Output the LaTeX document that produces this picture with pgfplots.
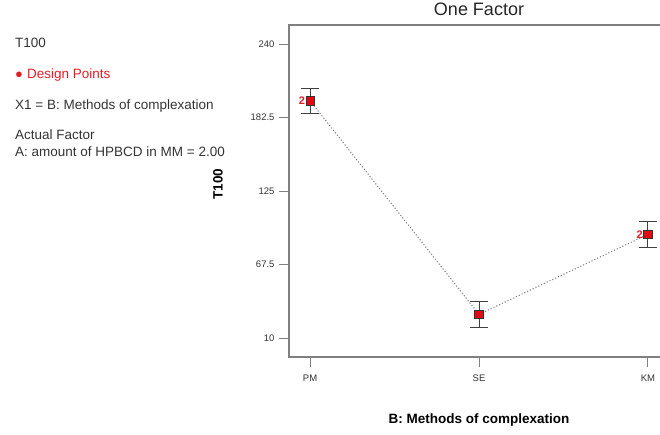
\documentclass[border=0pt]{standalone}
\usepackage{fontspec}
\setmainfont{Liberation Sans}
\usepackage{pgfplots}
\pgfplotsset{compat=1.18}
\definecolor{axgray}{RGB}{128,128,128}
\definecolor{ptred}{RGB}{225,10,20}
\definecolor{txtred}{RGB}{225,30,40}
\begin{document}
\begin{tikzpicture}[x=1pt,y=1pt]
\useasboundingbox (0,0) rectangle (660,-434);
\clip (0,0) rectangle (660,-434);
\begin{scope}[font=\fontsize{13.5}{16}\selectfont, text=black!80]
\node[anchor=base west, inner sep=0pt] at (15,-47) {T100};
\node[anchor=base west, inner sep=0pt, text=txtred] at (15,-78) {{\fontsize{13}{14}\selectfont ●}\hspace{4pt}Design Points};
\node[anchor=base west, inner sep=0pt] at (15,-109) {X1 = B: Methods of complexation};
\node[anchor=base west, inner sep=0pt] at (15,-139) {Actual Factor};
\node[anchor=base west, inner sep=0pt] at (15,-156) {A: amount of HPBCD in MM = 2.00};
\end{scope}
\begin{axis}[
  at={(289pt,-357pt)}, anchor=south west,
  width=380pt, height=332pt, scale only axis,
  xmin=-0.125, xmax=2.125,
  ymin=-4.86, ymax=254.9,
  xtick={0,1,2}, xticklabels={PM,SE,KM},
  ytick={10,67.5,125,182.5,240},
  yticklabels={10,67.5,125,182.5,240},
  tick align=outside,
  xtick pos=bottom, ytick pos=left,
  major tick length=10pt,
  axis line style={draw=axgray, line width=1.5pt},
  every tick/.style={draw=axgray, line width=0.9pt},
  ticklabel style={font=\fontsize{9.5}{11}\selectfont, text=black!80},
  /pgf/number format/assume math mode=true,
  xticklabel style={yshift=-4pt},
  yticklabel style={xshift=-1pt},
  title={One Factor},
  title style={font=\fontsize{18}{20}\selectfont, at={(axis description cs:0.5,1)}, anchor=base, yshift=4pt, text=black!85},
  xlabel={\textbf{B: Methods of complexation}},
  xlabel style={font=\fontsize{13.5}{16}\selectfont, at={(axis description cs:0.5,0)}, anchor=center, yshift=-63pt},
  ylabel={\textbf{T100}},
  ylabel style={font=\fontsize{13.5}{16}\selectfont, at={(axis description cs:-0.187,0.52)}, anchor=center},
]
\addplot[draw=gray, dotted, line width=1.1pt,
  mark=square*, mark size=4.3pt, mark options={solid, fill=ptred, draw=black!80, line width=0.6pt},
  error bars/.cd, y dir=both, y explicit,
  error bar style={draw=black!75, line width=0.9pt, solid},
  error mark options={rotate=90, mark size=9pt, draw=black!75, line width=0.9pt, solid}]
  coordinates {
    (0,195.6) +- (0,9.8)
    (1,28.5) +- (0,10.1)
    (2,91.1) +- (0,10.0)
  };
\addplot[draw=none, mark=none, point meta=explicit symbolic,
  nodes near coords, nodes near coords style={anchor=east, xshift=-5pt, yshift=0pt, inner sep=0pt, text=txtred, font=\bfseries\fontsize{11}{12}\selectfont}]
  coordinates {
    (0,195.6) [2]
    (2,91.1) [2]
  };
\end{axis}
\end{tikzpicture}
\end{document}
